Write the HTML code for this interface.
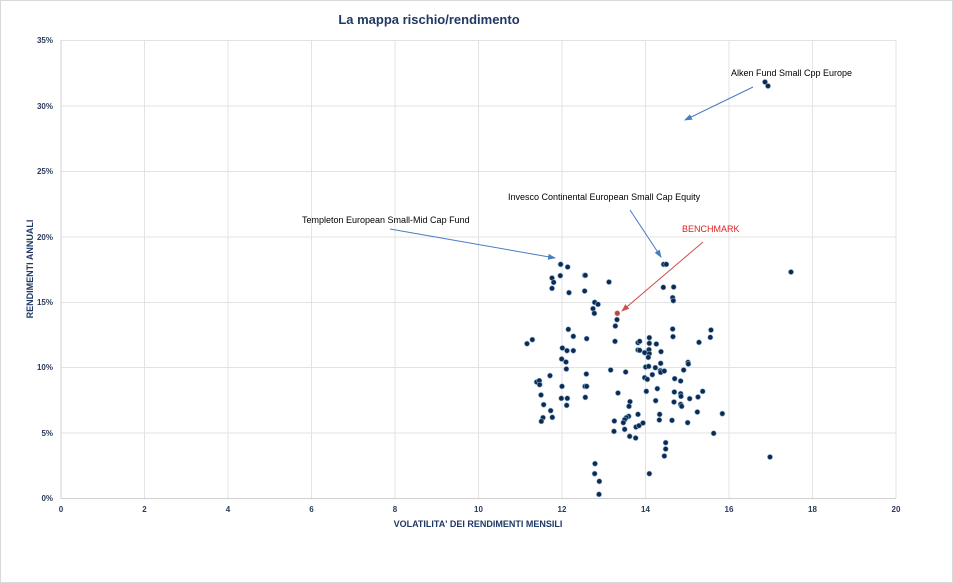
<!DOCTYPE html>
<html><head><meta charset="utf-8"><style>
body{margin:0;background:#fff}
svg{display:block;font-family:"Liberation Sans",sans-serif}
.t{font-size:8px;font-weight:bold;fill:#2a3a5a}
</style></head><body>
<svg width="953" height="583" viewBox="0 0 953 583">
<rect x="0.5" y="0.5" width="952" height="582" fill="#fff" stroke="#d9d9d9"/>
<text x="429" y="24" text-anchor="middle" font-size="13" font-weight="bold" fill="#1f3864">La mappa rischio/rendimento</text>
<g stroke="#e3e3e3" stroke-width="1">
<line x1="61" y1="40.5" x2="896" y2="40.5"/><line x1="61" y1="106" x2="896" y2="106"/><line x1="61" y1="171.5" x2="896" y2="171.5"/><line x1="61" y1="237" x2="896" y2="237"/><line x1="61" y1="302.5" x2="896" y2="302.5"/><line x1="61" y1="367.5" x2="896" y2="367.5"/><line x1="61" y1="433" x2="896" y2="433"/>
<line x1="144.5" y1="40" x2="144.5" y2="498"/><line x1="228" y1="40" x2="228" y2="498"/><line x1="311.5" y1="40" x2="311.5" y2="498"/><line x1="395" y1="40" x2="395" y2="498"/><line x1="478.5" y1="40" x2="478.5" y2="498"/><line x1="562" y1="40" x2="562" y2="498"/><line x1="645.5" y1="40" x2="645.5" y2="498"/><line x1="729" y1="40" x2="729" y2="498"/><line x1="812.5" y1="40" x2="812.5" y2="498"/><line x1="896" y1="40" x2="896" y2="498"/>
</g>
<line x1="61" y1="40" x2="61" y2="498.5" stroke="#d0d0d0"/>
<line x1="61" y1="498.5" x2="896" y2="498.5" stroke="#d0d0d0"/>
<g class="t" text-anchor="end">
<text x="53" y="43">35%</text><text x="53" y="109">30%</text><text x="53" y="174">25%</text><text x="53" y="240">20%</text><text x="53" y="305">15%</text><text x="53" y="370">10%</text><text x="53" y="436">5%</text><text x="53" y="501">0%</text>
</g>
<g class="t" text-anchor="middle">
<text x="61" y="512">0</text><text x="144.5" y="512">2</text><text x="228" y="512">4</text><text x="311.5" y="512">6</text><text x="395" y="512">8</text><text x="478.5" y="512">10</text><text x="562" y="512">12</text><text x="645.5" y="512">14</text><text x="729" y="512">16</text><text x="812.5" y="512">18</text><text x="896" y="512">20</text>
</g>
<text x="478" y="527" text-anchor="middle" font-size="9" font-weight="bold" fill="#1f3864">VOLATILITA' DEI RENDIMENTI MENSILI</text>
<text transform="translate(33,269) rotate(-90)" text-anchor="middle" font-size="9" font-weight="bold" fill="#1f3864">RENDIMENTI ANNUALI</text>
<g font-size="9" fill="#000">
<text x="731" y="76">Alken Fund Small Cpp Europe</text>
<text x="508" y="200">Invesco Continental European Small Cap Equity</text>
<text x="302" y="223">Templeton European Small-Mid Cap Fund</text>
<text x="682" y="232" fill="#e02020">BENCHMARK</text>
</g>
<defs>
<marker id="ab" markerWidth="8" markerHeight="8" refX="7" refY="4" orient="auto" markerUnits="userSpaceOnUse"><path d="M0,1 L8,4 L0,7z" fill="#4a7cc0"/></marker>
<marker id="ar" markerWidth="8" markerHeight="8" refX="7" refY="4" orient="auto" markerUnits="userSpaceOnUse"><path d="M0,1 L8,4 L0,7z" fill="#d05050"/></marker>
</defs>
<g stroke-width="1">
<line x1="753" y1="87" x2="685" y2="120" stroke="#4a7cc0" marker-end="url(#ab)"/>
<line x1="630" y1="210" x2="661" y2="257" stroke="#4a7cc0" marker-end="url(#ab)"/>
<line x1="390" y1="229" x2="555" y2="258" stroke="#4a7cc0" marker-end="url(#ab)"/>
<line x1="703" y1="242" x2="622" y2="311" stroke="#d05050" marker-end="url(#ar)"/>
</g>
<g fill="#0f2b4c" stroke="#8fb3de" stroke-width="0.6">
<circle cx="765" cy="82" r="2.6"/><circle cx="768" cy="86" r="2.6"/><circle cx="791" cy="272" r="2.6"/><circle cx="770" cy="457" r="2.6"/>
</g>
<g fill="#0f2b4c" stroke="#8fb3de" stroke-width="1.8" transform="translate(510,250) scale(0.33333)">
<circle cx="152" cy="43" r="7.8"/><circle cx="173" cy="51" r="7.8"/><circle cx="126" cy="84" r="7.8"/><circle cx="151" cy="77" r="7.8"/><circle cx="131" cy="97" r="7.8"/><circle cx="126" cy="115" r="7.8"/><circle cx="177" cy="128" r="7.8"/><circle cx="224" cy="76" r="7.8"/><circle cx="226" cy="76" r="7.8"/><circle cx="224" cy="123" r="7.8"/><circle cx="297" cy="96" r="7.8"/><circle cx="254" cy="157" r="7.8"/><circle cx="264" cy="163" r="7.8"/><circle cx="249" cy="176" r="7.8"/><circle cx="253" cy="190" r="7.8"/><circle cx="321" cy="209" r="7.8"/><circle cx="316" cy="228" r="7.8"/><circle cx="175" cy="238" r="7.8"/><circle cx="190" cy="259" r="7.8"/><circle cx="230" cy="266" r="7.8"/><circle cx="51" cy="281" r="7.8"/><circle cx="67" cy="269" r="7.8"/><circle cx="157" cy="294" r="7.8"/><circle cx="171" cy="302" r="7.8"/><circle cx="190" cy="302" r="7.8"/><circle cx="155" cy="327" r="7.8"/><circle cx="168" cy="336" r="7.8"/><circle cx="169" cy="357" r="7.8"/><circle cx="120" cy="377" r="7.8"/><circle cx="80" cy="396" r="7.8"/><circle cx="88" cy="392" r="7.8"/><circle cx="89" cy="404" r="7.8"/><circle cx="93" cy="435" r="7.8"/><circle cx="101" cy="464" r="7.8"/><circle cx="122" cy="482" r="7.8"/><circle cx="127" cy="502" r="7.8"/><circle cx="99" cy="503" r="7.8"/><circle cx="94" cy="514" r="7.8"/><circle cx="156" cy="409" r="7.8"/><circle cx="154" cy="445" r="7.8"/><circle cx="172" cy="445" r="7.8"/><circle cx="170" cy="466" r="7.8"/><circle cx="229" cy="372" r="7.8"/><circle cx="225" cy="409" r="7.8"/><circle cx="230" cy="409" r="7.8"/><circle cx="226" cy="442" r="7.8"/><circle cx="302" cy="360" r="7.8"/><circle cx="347" cy="366" r="7.8"/><circle cx="315" cy="274" r="7.8"/><circle cx="384" cy="278" r="7.8"/><circle cx="389" cy="274" r="7.8"/><circle cx="418" cy="263" r="7.8"/><circle cx="418" cy="280" r="7.8"/><circle cx="439" cy="282" r="7.8"/><circle cx="384" cy="300" r="7.8"/><circle cx="389" cy="301" r="7.8"/><circle cx="404" cy="308" r="7.8"/><circle cx="417" cy="299" r="7.8"/><circle cx="418" cy="311" r="7.8"/><circle cx="415" cy="322" r="7.8"/><circle cx="453" cy="305" r="7.8"/><circle cx="452" cy="340" r="7.8"/><circle cx="407" cy="351" r="7.8"/><circle cx="416" cy="349" r="7.8"/><circle cx="436" cy="353" r="7.8"/><circle cx="451" cy="362" r="7.8"/><circle cx="452" cy="367" r="7.8"/><circle cx="463" cy="363" r="7.8"/><circle cx="427" cy="374" r="7.8"/><circle cx="404" cy="383" r="7.8"/><circle cx="412" cy="388" r="7.8"/><circle cx="442" cy="416" r="7.8"/><circle cx="409" cy="424" r="7.8"/><circle cx="437" cy="452" r="7.8"/><circle cx="324" cy="429" r="7.8"/><circle cx="360" cy="455" r="7.8"/><circle cx="357" cy="469" r="7.8"/><circle cx="384" cy="493" r="7.8"/><circle cx="356" cy="499" r="7.8"/><circle cx="349" cy="503" r="7.8"/><circle cx="344" cy="509" r="7.8"/><circle cx="340" cy="518" r="7.8"/><circle cx="313" cy="513" r="7.8"/><circle cx="312" cy="544" r="7.8"/><circle cx="344" cy="538" r="7.8"/><circle cx="359" cy="559" r="7.8"/><circle cx="377" cy="564" r="7.8"/><circle cx="378" cy="531" r="7.8"/><circle cx="387" cy="527" r="7.8"/><circle cx="399" cy="519" r="7.8"/><circle cx="449" cy="493" r="7.8"/><circle cx="448" cy="510" r="7.8"/><circle cx="486" cy="511" r="7.8"/><circle cx="461" cy="43" r="7.8"/><circle cx="469" cy="43" r="7.8"/><circle cx="460" cy="112" r="7.8"/><circle cx="491" cy="111" r="7.8"/><circle cx="488" cy="143" r="7.8"/><circle cx="490" cy="152" r="7.8"/><circle cx="488" cy="237" r="7.8"/><circle cx="489" cy="260" r="7.8"/><circle cx="603" cy="240" r="7.8"/><circle cx="601" cy="262" r="7.8"/><circle cx="567" cy="277" r="7.8"/><circle cx="534" cy="337" r="7.8"/><circle cx="535" cy="342" r="7.8"/><circle cx="521" cy="360" r="7.8"/><circle cx="494" cy="386" r="7.8"/><circle cx="512" cy="393" r="7.8"/><circle cx="493" cy="426" r="7.8"/><circle cx="512" cy="431" r="7.8"/><circle cx="513" cy="439" r="7.8"/><circle cx="539" cy="446" r="7.8"/><circle cx="564" cy="441" r="7.8"/><circle cx="578" cy="424" r="7.8"/><circle cx="492" cy="456" r="7.8"/><circle cx="512" cy="463" r="7.8"/><circle cx="515" cy="469" r="7.8"/><circle cx="562" cy="486" r="7.8"/><circle cx="533" cy="518" r="7.8"/><circle cx="637" cy="491" r="7.8"/><circle cx="611" cy="550" r="7.8"/><circle cx="467" cy="578" r="7.8"/><circle cx="467" cy="597" r="7.8"/><circle cx="463" cy="618" r="7.8"/><circle cx="255" cy="641" r="7.8"/><circle cx="254" cy="671" r="7.8"/><circle cx="268" cy="694" r="7.8"/><circle cx="267" cy="733" r="7.8"/><circle cx="418" cy="671" r="7.8"/>
</g>
<circle cx="617.3" cy="313.3" r="2.6" fill="#b04a50" stroke="#e09090" stroke-width="0.6"/>
</svg>
</body></html>
